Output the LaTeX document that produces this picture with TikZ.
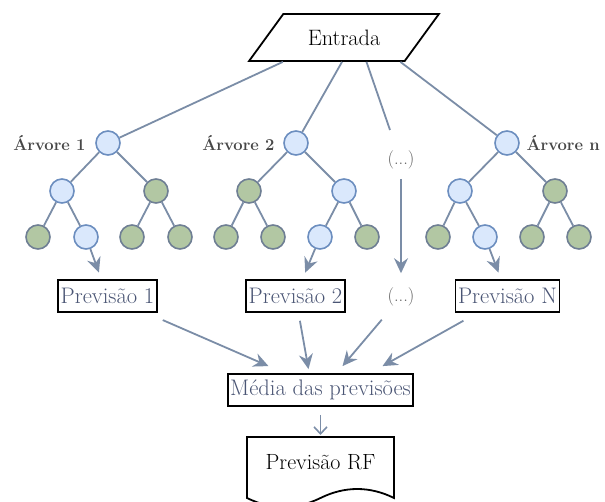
\documentclass[tikz,border=0pt]{standalone}
\usepackage{fontspec}
\usepackage{tikz}
\usetikzlibrary{calc,arrows.meta,shapes.geometric}
\definecolor{edgegray}{HTML}{7B8DA7}
\definecolor{bluefill}{HTML}{DAE8FC}
\definecolor{blueline}{HTML}{6C8EBF}
\definecolor{greenfill}{HTML}{B2C7A3}
\definecolor{greenline}{HTML}{6F7F94}
\definecolor{predtext}{HTML}{4A5574}
\tikzset{
  bluenode/.style={circle,draw=blueline,fill=bluefill,line width=1.6pt,minimum size=24pt,inner sep=0pt},
  greennode/.style={circle,draw=greenline,fill=greenfill,line width=1.6pt,minimum size=24pt,inner sep=0pt},
  treeedge/.style={draw=edgegray,line width=1.8pt},
  flowarrow/.style={draw=edgegray,line width=1.8pt,-{Stealth[length=15pt,width=14pt,inset=5pt]}},
  openarrow/.style={draw=edgegray,line width=1.6pt,-{Straight Barb[length=7pt,width=13pt]}},
  predbox/.style={draw=black,line width=1.8pt,inner xsep=2.5pt,inner ysep=0pt,minimum height=32pt,text=predtext,font=\fontsize{22.5}{25}\selectfont},
  treelabel/.style={text=black!72,font=\fontsize{16.6}{19}\selectfont\bfseries},
  dotstext/.style={text=black!62,font=\fontsize{18.5}{20}\selectfont},
  inputbox/.style={trapezium,trapezium left angle=45,trapezium right angle=135,trapezium stretches=true,draw=black,line width=1.8pt,minimum width=190pt,minimum height=47pt,font=\fontsize{22.3}{25}\selectfont}
}

\begin{document}
\begin{tikzpicture}[x=1pt,y=-1pt]
    \useasboundingbox (0,0) rectangle (605,502);
    % input
    \node[inputbox] (in) at (344,37.5) {Entrada};
    % tree 1
    \node[bluenode] (t1) at (108,143) {};
    \node[bluenode] (t1a) at (62,191) {};
    \node[greennode] (t1b) at (156,191) {};
    \node[greennode] (t1aa) at (38,237) {};
    \node[bluenode] (t1ab) at (86,237) {};
    \node[greennode] (t1ba) at (132,237) {};
    \node[greennode] (t1bb) at (180,237) {};
    \node[treelabel,anchor=east] (lab1) at (89,143) {Árvore 1};
    % tree 2
    \node[bluenode] (t2) at (296,143) {};
    \node[greennode] (t2a) at (249,191) {};
    \node[bluenode] (t2b) at (344,191) {};
    \node[greennode] (t2aa) at (226,237) {};
    \node[greennode] (t2ab) at (273,237) {};
    \node[bluenode] (t2ba) at (320,237) {};
    \node[greennode] (t2bb) at (367,237) {};
    \node[treelabel,anchor=east] (lab2) at (278,143) {Árvore 2};
    % tree n
    \node[bluenode] (tn) at (507,143) {};
    \node[bluenode] (tna) at (460,191) {};
    \node[greennode] (tnb) at (555,191) {};
    \node[greennode] (tnaa) at (438,237) {};
    \node[bluenode] (tnab) at (485,237) {};
    \node[greennode] (tnba) at (532,237) {};
    \node[greennode] (tnbb) at (579,237) {};
    \node[treelabel,anchor=west] (labn) at (523,143) {Árvore n};
    % the rest
    \coordinate (d0) at (390,130);
    \node[dotstext] (d1) at (401,160) {(...)};
    \node[predbox] (p1) at (107.5,296) {Previsão 1};
    \node[predbox] (p2) at (295.5,296) {Previsão 2};
    \node[dotstext] (d2) at (401,297) {(...)};
    \node[predbox] (pn) at (507.5,296) {Previsão N};
    \node[predbox] (m) at (320.5,390) {Média das previsões};
    \coordinate (rftop) at (320.5,437);
    \node[font=\fontsize{22}{25}\selectfont] (rf) at (320.5,462) {Previsão RF};
    \draw[line width=1.8pt] (247,437) -- (394,437) -- (394,498)
      .. controls (369.7,486) and (344.8,486) .. (320.5,498)
      .. controls (296,510) and (271.5,510) .. (247,498) -- cycle;
    % input to trees
    \draw[treeedge] ($(in.bottom left corner)!0.225!(in.bottom right corner)$) -- (t1);
    \draw[treeedge] ($(in.bottom left corner)!0.6!(in.bottom right corner)$) -- (t2);
    \draw[treeedge] ($(in.bottom left corner)!0.755!(in.bottom right corner)$) -- (d0);
    \draw[treeedge] ($(in.bottom left corner)!0.97!(in.bottom right corner)$) -- (tn);
    % tree edges
    \draw[treeedge] (t1) -- (t1a);
    \draw[treeedge] (t1) -- (t1b);
    \draw[treeedge] (t1a) -- (t1aa);
    \draw[treeedge] (t1a) -- (t1ab);
    \draw[treeedge] (t1b) -- (t1ba);
    \draw[treeedge] (t1b) -- (t1bb);
    \draw[treeedge] (t2) -- (t2a);
    \draw[treeedge] (t2) -- (t2b);
    \draw[treeedge] (t2a) -- (t2aa);
    \draw[treeedge] (t2a) -- (t2ab);
    \draw[treeedge] (t2b) -- (t2ba);
    \draw[treeedge] (t2b) -- (t2bb);
    \draw[treeedge] (tn) -- (tna);
    \draw[treeedge] (tn) -- (tnb);
    \draw[treeedge] (tna) -- (tnaa);
    \draw[treeedge] (tna) -- (tnab);
    \draw[treeedge] (tnb) -- (tnba);
    \draw[treeedge] (tnb) -- (tnbb);
    % leaves to predictions
    \draw[flowarrow,shorten >=7pt] (t1ab) -- (p1);
    \draw[flowarrow,shorten >=7pt] (t2ba) -- (p2);
    \draw[flowarrow,shorten <=6pt,shorten >=11pt] (d1) -- (d2);
    \draw[flowarrow,shorten >=7pt] (tnab) -- (pn);
    % predictions to mean
    \draw[flowarrow,shorten <=18pt] (p1) -- ($(m.north)+(-52,-7)$);
    \draw[flowarrow,shorten <=8pt] (p2) -- ($(m.north)+(-12,-4)$);
    \draw[flowarrow,shorten <=13pt] (d2) -- ($(m.north)+(22,-7)$);
    \draw[flowarrow,shorten <=16pt] (pn) -- ($(m.north)+(62,-7)$);
    \draw[openarrow,shorten <=8pt,shorten >=2pt] (m) -- (rftop);
\end{tikzpicture}
\end{document}
